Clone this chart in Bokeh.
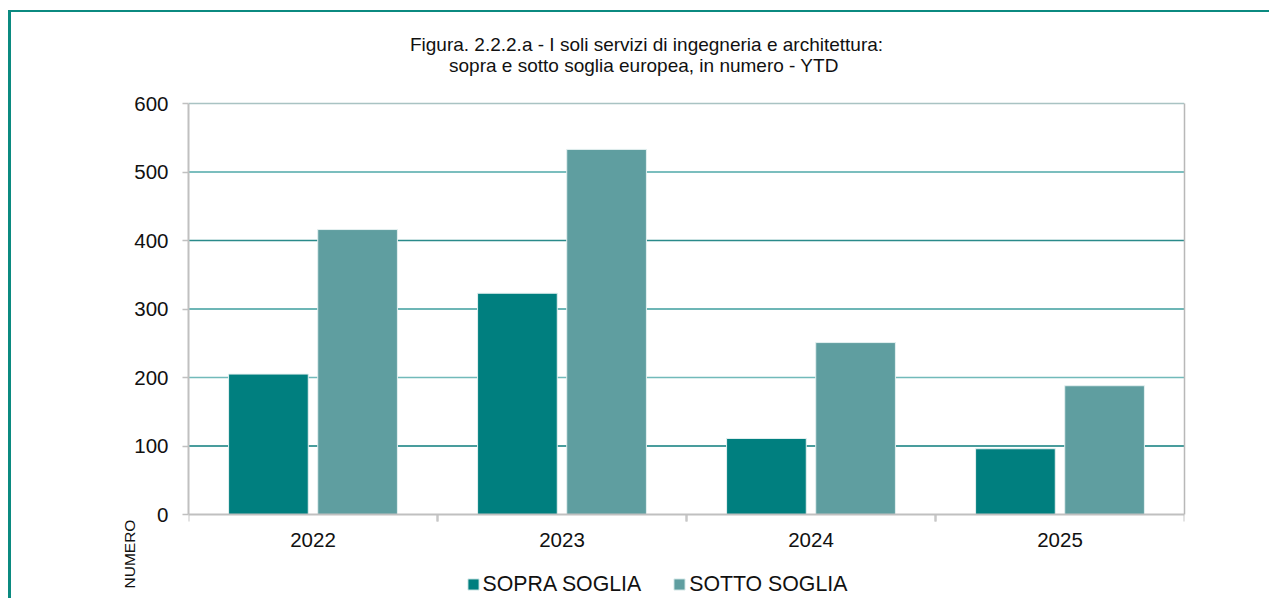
from bokeh.plotting import figure
from bokeh.models import (ColumnDataSource, FactorRange, Range1d, Span, Title, Label,
                          FixedTicker, Legend, LegendItem, LinearAxis)
from bokeh.transform import dodge
from bokeh.embed import file_html
from bokeh.resources import INLINE

# ---- data ----
years = ["2022", "2023", "2024", "2025"]
sopra_soglia = [205, 323, 111, 96]
sotto_soglia = [416, 533, 251, 188]
series_names = ["SOPRA SOGLIA", "SOTTO SOGLIA"]
y_ticks = [0, 100, 200, 300, 400, 500, 600]
title_lines = ["Figura. 2.2.2.a - I soli servizi di ingegneria e architettura:",
               "sopra e sotto soglia europea, in numero  - YTD"]
y_label = "NUMERO"

# ---- styles ----
FONT = "Liberation Sans"
C_SOPRA = "#007f7f"
C_SOTTO = "#5f9ea0"
grid_colors = {100: "#0d7d7d", 200: "#72baba", 300: "#3c9e9e",
               400: "#2a8a8a", 500: "#4fa8a8", 600: "#a9c3c3"}

# layout geometry (pixels): value axis 0..600 spans 411 px (y=514..103)
PX_PER_UNIT = 411 / 600
FRAME_TOP, FRAME_BOTTOM, AXIS_TOP, AXIS_ZERO = 20, 598, 103, 514
y_start = -(FRAME_BOTTOM - AXIS_ZERO) / PX_PER_UNIT
y_end = 600 + (AXIS_TOP - FRAME_TOP) / PX_PER_UNIT
TICK_LEN = 7 / PX_PER_UNIT   # category separator tick length, in value units

src = ColumnDataSource(dict(year=years, sopra=sopra_soglia, sotto=sotto_soglia,
                            zero=[0] * len(years), tick=[-TICK_LEN] * len(years)))

p = figure(x_range=FactorRange(*years, range_padding=0), y_range=Range1d(y_start, y_end),
           width=1269, height=598, output_backend="svg", toolbar_location=None,
           min_border_left=188, min_border_right=85, min_border_top=FRAME_TOP,
           min_border_bottom=0, title=None)

p.background_fill_color = "white"
p.border_fill_color = None
p.styles = {"box-shadow": "inset 8px 10px 0 0 #ffffff, inset 11px 12px 0 0 #0b8a80"}
p.outline_line_color = None
p.xgrid.grid_line_color = None
p.ygrid.grid_line_color = None

for t in y_ticks:
    if t in grid_colors:
        p.add_layout(Span(location=t, dimension="width", line_color=grid_colors[t],
                          line_width=1.5, level="underlay"))

r1 = p.vbar(x=dodge("year", -0.179, range=p.x_range), top="sopra", width=0.32,
            source=src, fill_color=C_SOPRA, line_color="#e4f0f0", line_width=1)
r2 = p.vbar(x=dodge("year", 0.179, range=p.x_range), top="sotto", width=0.32,
            source=src, fill_color=C_SOTTO, line_color="#e4f0f0", line_width=1)

# separator ticks between categories, below the category axis
for off in (-0.5, 0.5):
    p.segment(x0=dodge("year", off, range=p.x_range), y0="zero",
              x1=dodge("year", off, range=p.x_range), y1="tick",
              source=src, line_color="#c8c8c8", line_width=2)

# value axis (left), limited to 0..600
p.yaxis.ticker = FixedTicker(ticks=y_ticks)
p.yaxis.bounds = (0, 600)
p.yaxis.axis_line_color = "#c0c0c0"
p.yaxis.axis_line_width = 2
p.yaxis.major_tick_line_color = "#c0c0c0"
p.yaxis.major_tick_line_width = 1.5
p.yaxis.major_tick_out = 6
p.yaxis.major_tick_in = 0
p.yaxis.minor_tick_line_color = None
p.yaxis.major_label_standoff = 14

# category axis drawn at value 0
p.xaxis.fixed_location = 0
p.xaxis.axis_line_color = "#c0c0c0"
p.xaxis.axis_line_width = 2
p.xaxis.major_tick_line_color = None
p.xaxis.major_tick_out = 0
p.xaxis.major_tick_in = 0
p.xaxis.minor_tick_line_color = None
p.xaxis.major_label_standoff = 18

for ax in (p.xaxis, p.yaxis):
    ax.major_label_text_font = FONT
    ax.major_label_text_font_size = "20.5px"
    ax.major_label_text_color = "#111111"

# right border of the plot area
p.add_layout(LinearAxis(ticker=FixedTicker(ticks=[]), bounds=(0, 600),
                        axis_line_color="#b8b8b8", axis_line_width=1.5,
                        major_tick_line_color=None, minor_tick_line_color=None), "right")

# title, two centred lines
TITLE_X = (646 - 188) / 249
for line, base_px in zip(title_lines, [43.5, 65.0]):
    p.add_layout(Label(x=TITLE_X, y=(AXIS_ZERO - base_px) / PX_PER_UNIT, text=line,
                       text_align="center", text_baseline="alphabetic",
                       text_font=FONT, text_font_size="19px",
                       text_color="#111111"))

# rotated label below the y axis
p.add_layout(Title(text=y_label, align="left", offset=10, standoff=-12,
                   vertical_align="bottom", text_font=FONT, text_font_size="15.5px",
                   text_font_style="normal", text_color="#111111"), "left")

# legend inside the (extended) frame, under the category labels
legend = Legend(items=[LegendItem(label=series_names[0], renderers=[r1]),
                       LegendItem(label=series_names[1], renderers=[r2])],
                orientation="horizontal", location=(277.6, 1.5),
                padding=0, margin=0, spacing=31, label_standoff=3,
                glyph_width=14, glyph_height=14, label_height=24,
                border_line_color=None, background_fill_alpha=0,
                label_text_font=FONT, label_text_font_size="21.3px",
                label_text_color="#111111")
p.add_layout(legend, "center")

open("out.html", "w").write(file_html(p, INLINE))
